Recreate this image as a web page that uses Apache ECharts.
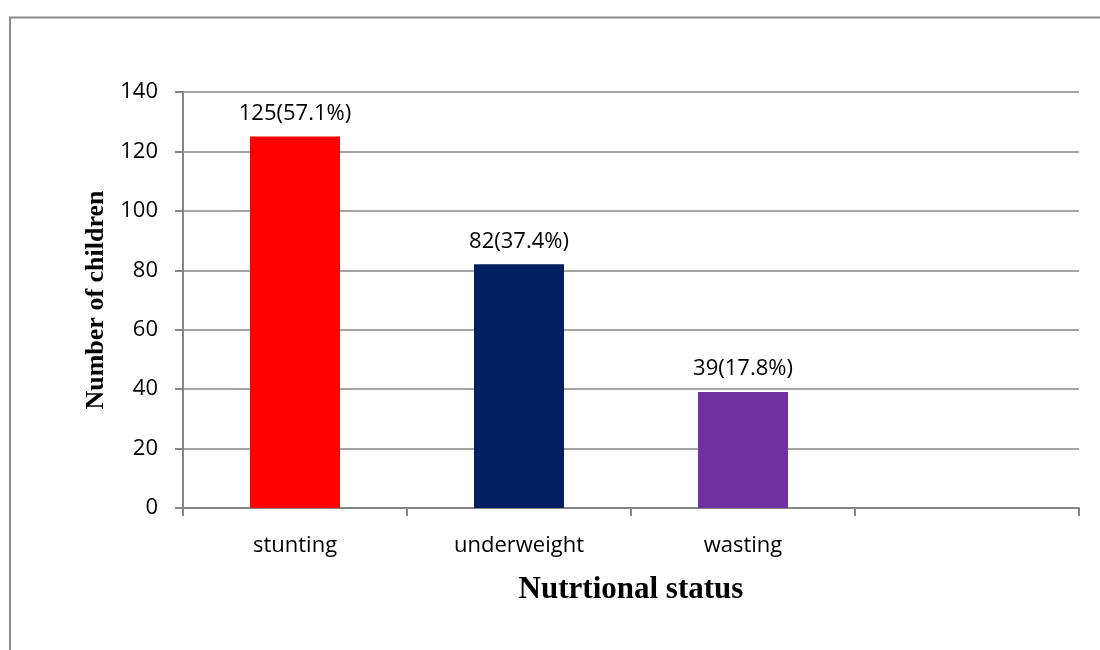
<!DOCTYPE html>
<html>
<head>
<meta charset="utf-8">
<script src="https://cdn.jsdelivr.net/npm/echarts@6/dist/echarts.min.js"></script>
<style>html,body{margin:0;padding:0;background:#fff}#c{width:1100px;height:650px}</style>
</head>
<body>
<div id="c"></div>
<script>
const categories = ['stunting', 'underweight', 'wasting', ''];
const counts = [125, 82, 39, null];
const percents = ['57.1%', '37.4%', '17.8%', ''];
const barColors = ['#FF0000', '#002060', '#7030A0', '#000000'];
const yTicks = { min: 0, max: 140, interval: 20 };

const chart = echarts.init(document.getElementById('c'));
const axisGray = '#868686';
chart.setOption({
  animation: false,
  graphic: [
    { type: 'line', shape: { x1: 9, y1: 17.5, x2: 1100, y2: 17.5 }, style: { stroke: '#8c8c8c', lineWidth: 2 } },
    { type: 'line', shape: { x1: 10, y1: 17, x2: 10, y2: 650 }, style: { stroke: '#8c8c8c', lineWidth: 2 } }
  ],
  grid: { left: 183, right: 21, top: 92, bottom: 142, containLabel: false },
  xAxis: {
    type: 'category',
    data: categories,
    name: 'Nutrtional status',
    nameLocation: 'middle',
    nameGap: 66,
    nameTextStyle: { fontFamily: 'Liberation Serif', fontWeight: 'bold', fontSize: 31, color: '#000' },
    axisLine: { lineStyle: { color: axisGray, width: 2 } },
    axisTick: { show: true, length: 8, lineStyle: { color: axisGray, width: 2 } },
    axisLabel: { fontFamily: 'Open Sans', fontSize: 22, color: '#000', margin: 27 }
  },
  yAxis: {
    type: 'value',
    min: yTicks.min, max: yTicks.max, interval: yTicks.interval,
    name: 'Number of children',
    nameLocation: 'middle',
    nameGap: 72,
    nameTextStyle: { fontFamily: 'Liberation Serif', fontWeight: 'bold', fontSize: 26, color: '#000' },
    axisLine: { show: true, lineStyle: { color: axisGray, width: 2 } },
    axisTick: { show: true, length: 8, lineStyle: { color: axisGray, width: 2 } },
    splitLine: { lineStyle: { color: axisGray, width: 1.5 } },
    axisLabel: { fontFamily: 'Open Sans', fontSize: 22, color: '#000', margin: 25 }
  },
  series: [{
    type: 'bar',
    barWidth: 90,
    data: counts.map((v, i) => ({ value: v, itemStyle: { color: barColors[i] } })),
    label: {
      show: true,
      position: 'top',
      distance: 12,
      fontFamily: 'Open Sans',
      fontSize: 22,
      color: '#000',
      formatter: p => p.value == null ? '' : p.value + '(' + percents[p.dataIndex] + ')'
    }
  }]
});
</script>
</body>
</html>
